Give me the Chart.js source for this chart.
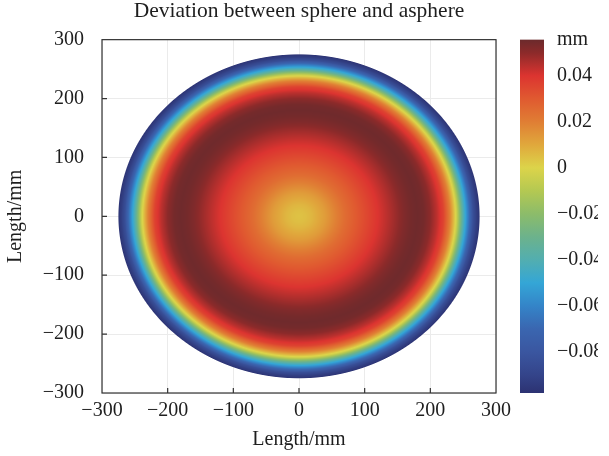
<!DOCTYPE html>
<html>
<head>
<meta charset="utf-8">
<script src="https://cdn.jsdelivr.net/npm/chart.js@4/dist/chart.umd.min.js"></script>
<style>
  html, body { margin: 0; padding: 0; background: #fff; overflow: hidden; }
  canvas { display: block; }
</style>
</head>
<body>
<canvas id="deviation-map" width="609" height="456"></canvas>
<script>
// Radial profile of the sphere/asphere deviation (mm) across the aperture
const radius = [0, 10, 20, 30, 40, 50, 60, 70, 80, 90, 100, 110, 120, 130, 140,
  150, 160, 170, 180, 190, 200, 210, 220, 230, 240, 250, 260, 265, 270, 275];
const deviation = [0.004, 0.005, 0.007, 0.010, 0.013, 0.017, 0.021, 0.025, 0.028,
  0.031, 0.034, 0.037, 0.040, 0.043, 0.046, 0.049, 0.052, 0.054, 0.055, 0.054,
  0.050, 0.044, 0.036, 0.019, -0.004, -0.040, -0.070, -0.084, -0.092, -0.097];
const apertureRadius = 275;

const axisTicks = [-300, -200, -100, 0, 100, 200, 300];
const colorbarTicks = [-0.08, -0.06, -0.04, -0.02, 0, 0.02, 0.04];
const colorbarMin = -0.0978;
const colorbarMax = 0.0557;

// colormap: [value, colour]
const colorStops = [
  [-0.0978, '#2c3272'], [-0.09, '#34448a'], [-0.08, '#3a56a0'], [-0.07, '#3a66b0'],
  [-0.06, '#3484c8'], [-0.05, '#34a6d6'], [-0.04, '#52aeb0'], [-0.03, '#6cb28c'],
  [-0.02, '#8cbc6a'], [-0.01, '#b4c852'], [0, '#dcd44a'], [0.01, '#e0a83c'],
  [0.02, '#e07e34'], [0.03, '#e05a30'], [0.04, '#dc3430'], [0.05, '#8c2a2a'],
  [0.0557, '#6b2a2c']
];

const stopRgb = colorStops.map(([v, c]) => [v, parseInt(c.slice(1, 3), 16),
  parseInt(c.slice(3, 5), 16), parseInt(c.slice(5, 7), 16)]);

function colourFor(v) {
  if (v <= stopRgb[0][0]) return stopRgb[0].slice(1);
  for (let i = 1; i < stopRgb.length; i++) {
    const b = stopRgb[i];
    if (v <= b[0]) {
      const a = stopRgb[i - 1];
      const t = (v - a[0]) / (b[0] - a[0]);
      return [a[1] + t * (b[1] - a[1]), a[2] + t * (b[2] - a[2]), a[3] + t * (b[3] - a[3])];
    }
  }
  return stopRgb[stopRgb.length - 1].slice(1);
}

function deviationAt(r) {
  for (let i = 1; i < radius.length; i++) {
    if (r <= radius[i]) {
      const t = (r - radius[i - 1]) / (radius[i] - radius[i - 1]);
      return deviation[i - 1] + t * (deviation[i] - deviation[i - 1]);
    }
  }
  return deviation[deviation.length - 1];
}

const serif = { family: 'Liberation Serif', size: 20, weight: 'normal' };
const ink = '#1e1e1e';
const minus = (v) => String(v).replace('-', '\u2212');

// fills the aperture pixel by pixel, reading mm values back through the x/y scales
const heatmap = {
  id: 'heatmap',
  beforeDatasetsDraw(chart) {
    const { ctx, chartArea: a, scales: { x, y } } = chart;
    const left = Math.round(a.left), top = Math.round(a.top);
    const w = Math.round(a.right) - left, h = Math.round(a.bottom) - top;
    const off = document.createElement('canvas');
    off.width = w; off.height = h;
    const octx = off.getContext('2d');
    const img = octx.createImageData(w, h);
    const mmPerPx = (x.max - x.min) / w;
    for (let j = 0; j < h; j++) {
      const vy = y.getValueForPixel(top + j + 0.5);
      for (let i = 0; i < w; i++) {
        const vx = x.getValueForPixel(left + i + 0.5);
        const r = Math.hypot(vx, vy);
        const alpha = Math.min(1, Math.max(0, (apertureRadius - r) / mmPerPx + 0.5));
        if (alpha <= 0) continue;
        const [cr, cg, cb] = colourFor(deviationAt(Math.min(r, apertureRadius)));
        const k = (j * w + i) * 4;
        img.data[k] = cr; img.data[k + 1] = cg; img.data[k + 2] = cb;
        img.data[k + 3] = Math.round(alpha * 255);
      }
    }
    octx.putImageData(img, 0, 0);
    ctx.save();
    ctx.filter = 'blur(0.7px)';
    ctx.drawImage(off, left, top);
    ctx.restore();
  },
  afterDatasetsDraw(chart) {
    const { ctx, chartArea: a, scales: { x, y, cb } } = chart;
    ctx.save();
    ctx.strokeStyle = '#333';
    ctx.lineWidth = 1.2;
    ctx.strokeRect(a.left, a.top, a.right - a.left, a.bottom - a.top);
    // inward tick marks on the bottom and left axes
    ctx.beginPath();
    axisTicks.slice(1, -1).forEach((v) => {
      const px = x.getPixelForValue(v);
      ctx.moveTo(px, a.bottom); ctx.lineTo(px, a.bottom - 5);
      const py = y.getPixelForValue(v);
      ctx.moveTo(a.left, py); ctx.lineTo(a.left + 5, py);
    });
    ctx.stroke();

    // colour bar
    const barLeft = a.right + 24, barW = 24;
    const yTop = cb.getPixelForValue(colorbarMax), yBot = cb.getPixelForValue(colorbarMin);
    const grad = ctx.createLinearGradient(0, yBot, 0, yTop);
    colorStops.forEach(([v, c]) => {
      grad.addColorStop((cb.getPixelForValue(v) - yBot) / (yTop - yBot), c);
    });
    ctx.fillStyle = grad;
    ctx.fillRect(barLeft, yTop, barW, yBot - yTop);
    ctx.restore();
  }
};

new Chart(document.getElementById('deviation-map'), {
  type: 'scatter',
  data: { datasets: [{ data: [], pointRadius: 0 }] },
  options: {
    responsive: false,
    animation: false,
    devicePixelRatio: 1,
    layout: { padding: { right: 11 } },
    plugins: {
      legend: { display: false },
      tooltip: { enabled: false },
      title: {
        display: true,
        text: 'Deviation between sphere and asphere',
        font: { ...serif, size: 21.5, lineHeight: 1.1 },
        color: ink,
        padding: { top: 0, bottom: 16 }
      }
    },
    scales: {
      x: {
        type: 'linear', min: -300, max: 300,
        afterBuildTicks: (s) => { s.ticks = axisTicks.map((v) => ({ value: v })); },
        afterFit: (s) => { s.height = 63; },
        grid: { color: '#ebebeb', drawTicks: false },
        border: { display: false },
        ticks: { autoSkip: false, maxRotation: 0, padding: 6, font: serif, color: ink, callback: minus },
        title: { display: true, text: 'Length/mm', font: serif, color: ink, padding: { top: 4, bottom: 4 } }
      },
      y: {
        type: 'linear', min: -300, max: 300,
        afterBuildTicks: (s) => { s.ticks = axisTicks.map((v) => ({ value: v })); },
        afterFit: (s) => { s.width = 102; },
        grid: { color: '#ebebeb', drawTicks: false },
        border: { display: false },
        ticks: { autoSkip: false, padding: 18, font: serif, color: ink, callback: minus },
        title: { display: true, text: 'Length/mm', font: serif, color: ink, padding: { top: 4, bottom: 4 } }
      },
      cb: {
        type: 'linear', position: 'right', min: colorbarMin, max: colorbarMax,
        afterBuildTicks: (s) => { s.ticks = colorbarTicks.concat([colorbarMax]).map((v) => ({ value: v })); },
        // wide label gap leaves room for the bar; keep it out of the vertical padding
        afterFit: (s) => { s.width = 102; s.paddingTop = 12; s.paddingBottom = 12; },
        grid: { display: false, drawTicks: false },
        border: { display: false },
        ticks: {
          autoSkip: false, padding: 61, font: serif, color: ink,
          callback: (v) => (v === colorbarMax ? 'mm' : minus(v))
        }
      }
    }
  },
  plugins: [heatmap]
});
</script>
</body>
</html>
